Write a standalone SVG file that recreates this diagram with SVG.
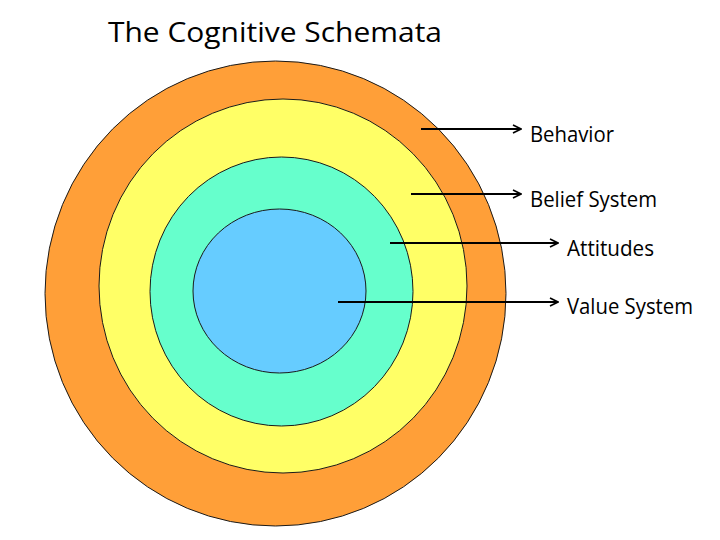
<svg xmlns="http://www.w3.org/2000/svg" width="720" height="540" viewBox="0 0 720 540">
<style>
.ring{stroke:#1a1a1a;stroke-width:1}
.lbl{font-family:"Open Sans","Liberation Sans",sans-serif;font-size:21px;fill:#000}
.ttl{font-family:"Open Sans","Liberation Sans",sans-serif;font-size:28px;fill:#000}
.conn{stroke:#000;stroke-width:2;fill:none;marker-end:url(#ah)}
</style>
<defs>
<marker id="ah" viewBox="0 0 10 10" refX="9" refY="5" markerWidth="5" markerHeight="5" orient="auto" markerUnits="strokeWidth">
<path d="M1,1 L9,5 L1,9" fill="none" stroke="#000" stroke-width="1.6"/>
</marker>
</defs>
<rect width="720" height="540" fill="#fff"/>
<text class="ttl" x="108" y="42" textLength="334" lengthAdjust="spacingAndGlyphs">The Cognitive Schemata</text>
<g id="behavior"><ellipse class="ring" cx="275.5" cy="293.5" rx="230.5" ry="232.5" fill="#FF9F38"/></g>
<g id="belief-system"><ellipse class="ring" cx="283" cy="286" rx="184" ry="187" fill="#FFFF66"/></g>
<g id="attitudes"><ellipse class="ring" cx="281.5" cy="291.5" rx="131.5" ry="134.5" fill="#66FFCC"/></g>
<g id="value-system"><ellipse class="ring" cx="279.5" cy="291" rx="86.5" ry="82" fill="#66CCFF"/></g>
<g id="connectors">
<line class="conn" x1="421" y1="129" x2="521" y2="129"/>
<line class="conn" x1="411" y1="194" x2="521" y2="194"/>
<line class="conn" x1="390" y1="243" x2="558" y2="243"/>
<line class="conn" x1="338" y1="302" x2="558" y2="302"/>
</g>
<g id="labels">
<text class="lbl" x="530" y="142" textLength="84" lengthAdjust="spacingAndGlyphs">Behavior</text>
<text class="lbl" x="530" y="207" textLength="127" lengthAdjust="spacingAndGlyphs">Belief System</text>
<text class="lbl" x="567" y="256" textLength="87" lengthAdjust="spacingAndGlyphs">Attitudes</text>
<text class="lbl" x="567" y="314" textLength="126" lengthAdjust="spacingAndGlyphs">Value System</text>
</g>
</svg>
